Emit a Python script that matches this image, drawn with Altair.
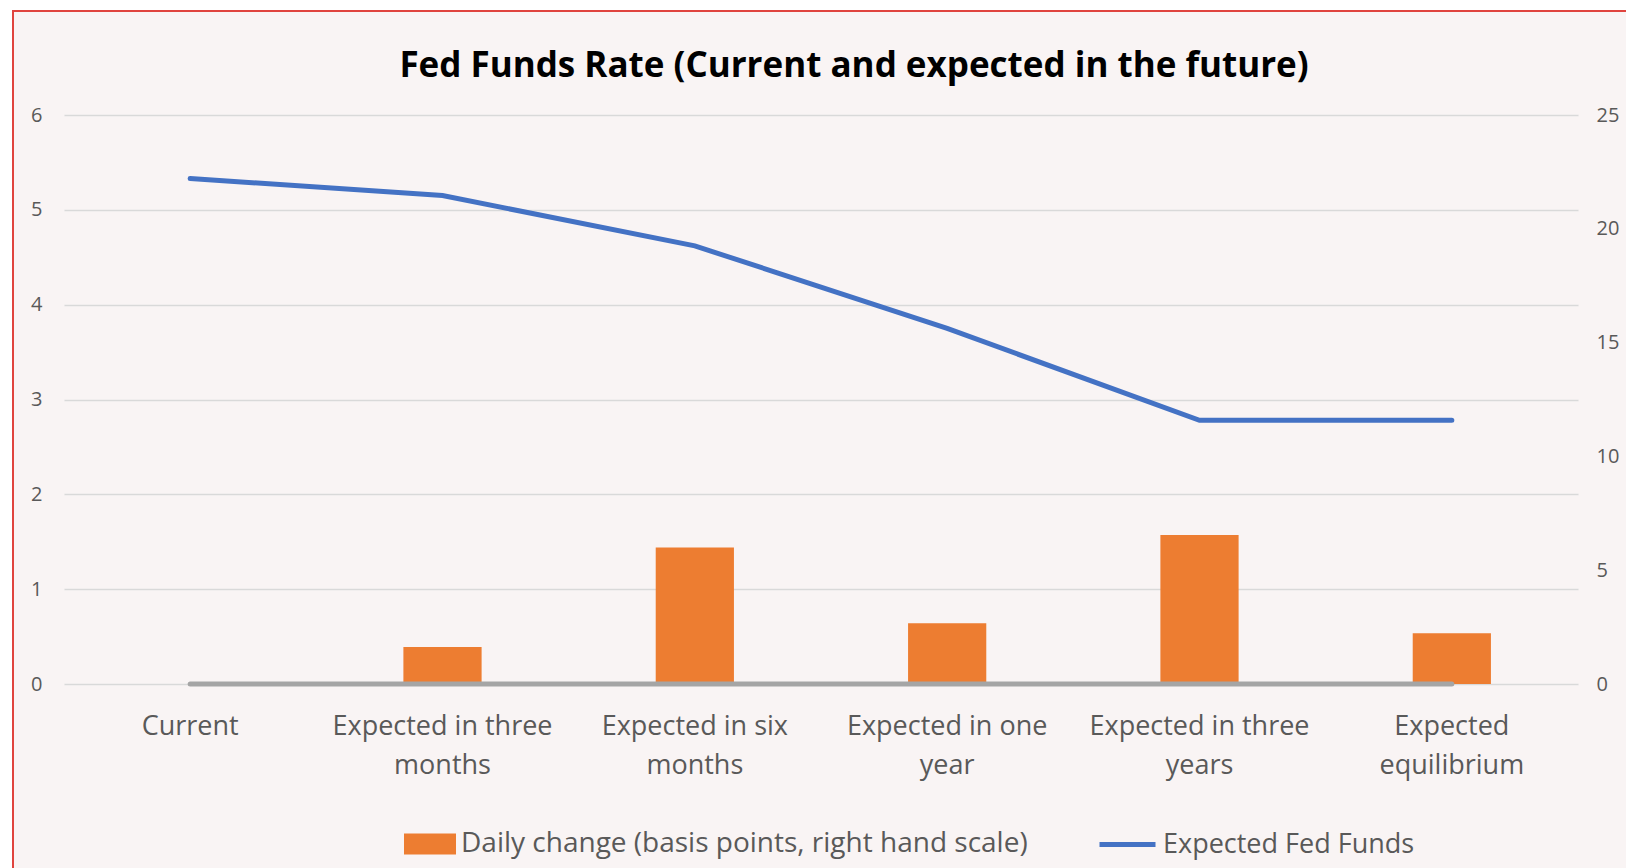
import altair as alt
import pandas as pd

TITLE = "Fed Funds Rate (Current and expected in the future)"
CATEGORIES = [
    "Current",
    "Expected in three\nmonths",
    "Expected in six\nmonths",
    "Expected in one\nyear",
    "Expected in three\nyears",
    "Expected\nequilibrium",
]
FED_FUNDS = [5.33, 5.15, 4.62, 3.75, 2.78, 2.78]
DAILY_CHANGE = [0.0, 1.63, 6.0, 2.67, 6.55, 2.23]
ZERO_SERIES = [0, 0, 0, 0, 0, 0]
LEFT_TICKS = [0, 1, 2, 3, 4, 5, 6]
RIGHT_TICKS = [0, 5, 10, 15, 20, 25]
BAR_NAME = "Daily change (basis points, right hand scale)"
LINE_NAME = "Expected Fed Funds"

FONT = "Open Sans"
LABEL_COLOR = "#595959"

bars_df = pd.DataFrame({"cat": CATEGORIES, "val": DAILY_CHANGE, "series": BAR_NAME})
line_df = pd.DataFrame({"cat": CATEGORIES, "val": FED_FUNDS, "series": LINE_NAME})
zero_df = pd.DataFrame({"cat": CATEGORIES, "val": ZERO_SERIES})
title_df = pd.DataFrame({"t": [TITLE]})
one_df = pd.DataFrame({"k": [0]})

x_enc = alt.X(
    "cat:N",
    sort=CATEGORIES,
    scale=alt.Scale(paddingInner=0, paddingOuter=0),
    axis=alt.Axis(
        title=None,
        labelAngle=0,
        domain=False,
        ticks=False,
        labelFont=FONT,
        labelFontSize=27,
        labelColor=LABEL_COLOR,
        labelPadding=29,
        labelLineHeight=39,
        labelBaseline="top",
        labelLimit=0,
        labelExpr="split(datum.label, '\\n')",
    ),
)

bars = alt.Chart(bars_df).mark_bar(width={"band": 0.31}).encode(
    x=x_enc,
    y=alt.Y(
        "val:Q",
        scale=alt.Scale(domain=[0, 25], nice=False),
        axis=alt.Axis(
            orient="right",
            values=RIGHT_TICKS,
            grid=False,
            domain=False,
            ticks=False,
            title=None,
            labelFont=FONT,
            labelFontSize=20,
            labelColor=LABEL_COLOR,
            labelPadding=18,
        ),
    ),
    fill=alt.Fill(
        "series:N",
        scale=alt.Scale(domain=[BAR_NAME], range=["#ed7d31"]),
        legend=alt.Legend(
            orient="none",
            legendX=340,
            legendY=703,
            title=None,
            padding=0,
            symbolType="M-1,-0.4H1V0.4H-1Z",
            symbolSize=2704,
            symbolStrokeWidth=0,
            labelFont=FONT,
            labelFontSize=28,
            labelColor=LABEL_COLOR,
            labelOffset=5,
            labelLimit=0,
        ),
    ),
)

y_left = alt.Y(
    "val:Q",
    scale=alt.Scale(domain=[0, 6], nice=False),
    axis=alt.Axis(
        orient="left",
        values=LEFT_TICKS,
        grid=True,
        gridColor="#d9d9d9",
        gridWidth=1.5,
        domain=False,
        ticks=False,
        title=None,
        labelFont=FONT,
        labelFontSize=20,
        labelColor=LABEL_COLOR,
        labelPadding=22,
    ),
)

zero_line = alt.Chart(zero_df).mark_line(
    color="#a5a5a5", strokeWidth=5, strokeCap="round"
).encode(x=x_enc, y=y_left)

fed_line = alt.Chart(line_df).mark_line(strokeWidth=5, strokeCap="round").encode(
    x=x_enc,
    y=y_left,
    stroke=alt.Stroke(
        "series:N",
        scale=alt.Scale(domain=[LINE_NAME], range=["#4472c4"]),
        legend=alt.Legend(
            orient="none",
            legendX=1033,
            legendY=699,
            title=None,
            padding=0,
            symbolType="stroke",
            symbolSize=3136,
            symbolStrokeWidth=5,
            labelFont=FONT,
            labelFontSize=27,
            labelColor=LABEL_COLOR,
            labelOffset=5,
            labelLimit=0,
        ),
    ),
)

lines = alt.layer(zero_line, fed_line)

title = alt.Chart(title_df).mark_text(
    font=FONT, fontSize=35, fontWeight="bold", color="black",
    align="center", baseline="middle",
).encode(text="t:N", x=alt.value(790), y=alt.value(-49))

white_left = alt.Chart(one_df).mark_rect(fill="white").encode(
    x=alt.value(-64), x2=alt.value(-52), y=alt.value(-115), y2=alt.value(760)
)
white_top = alt.Chart(one_df).mark_rect(fill="white").encode(
    x=alt.value(-64), x2=alt.value(1570), y=alt.value(-115), y2=alt.value(-105)
)
border = alt.Chart(one_df).mark_rect(
    fill="white", fillOpacity=0, stroke="#e0443e", strokeWidth=2
).encode(x=alt.value(-51), x2=alt.value(1575), y=alt.value(-104), y2=alt.value(770))

chart = alt.layer(white_left, white_top, border, title, bars, lines).resolve_scale(
    y="independent"
).properties(
    width=1514,
    height=569,
    autosize=alt.AutoSizeParams(type="none"),
    padding={"left": 64, "top": 115, "right": 48, "bottom": 184},
    background="#f9f4f4",
).configure_view(stroke=None)

chart.save("out.html", embed_options={"renderer": "svg", "actions": False})
